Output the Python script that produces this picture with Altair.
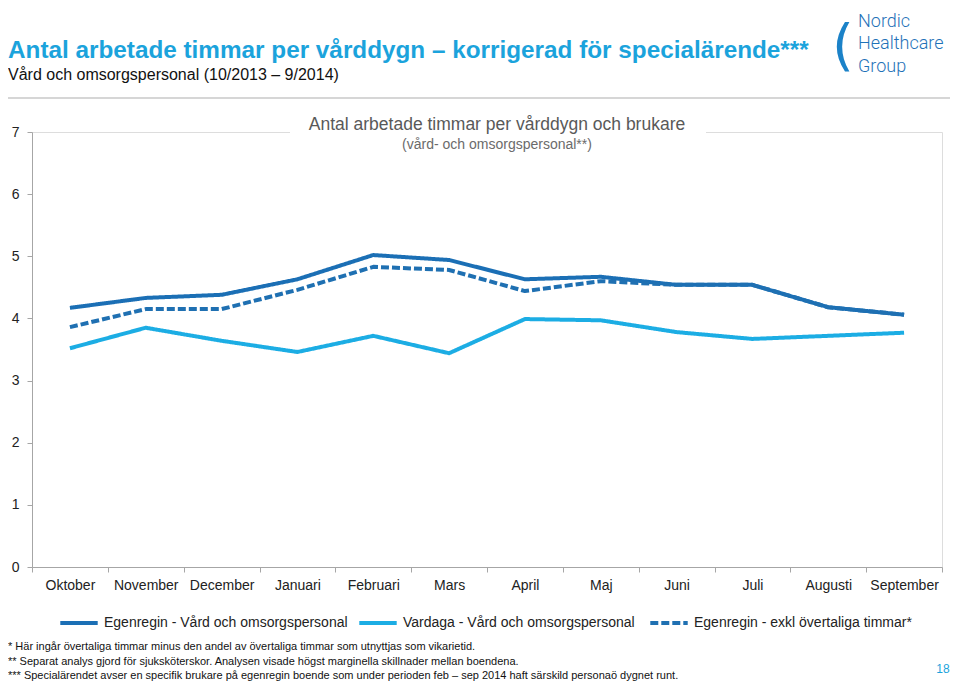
import altair as alt
import pandas as pd

months = ["Oktober", "November", "December", "Januari", "Februari", "Mars",
          "April", "Maj", "Juni", "Juli", "Augusti", "September"]
series_names = ["Egenregin - Vård och omsorgspersonal",
                "Vardaga -  Vård och omsorgspersonal",
                "Egenregin - exkl övertaliga timmar*"]
egenregin = [4.17, 4.33, 4.38, 4.63, 5.02, 4.94, 4.63, 4.67, 4.54, 4.54, 4.18, 4.06]
vardaga = [3.52, 3.85, 3.64, 3.46, 3.72, 3.44, 3.99, 3.97, 3.78, 3.67, 3.72, 3.77]
egenregin_exkl = [3.86, 4.15, 4.15, 4.46, 4.83, 4.78, 4.44, 4.60, 4.54, 4.54, 4.18, 4.06]
y_ticks = [0, 1, 2, 3, 4, 5, 6, 7]

colors = ["#1B6FB5", "#1CADE4", "#1F70B2"]
dashes = [[1, 0], [1, 0], [8, 3]]

rows = []
for name, vals in zip(series_names, [egenregin, vardaga, egenregin_exkl]):
    for m, v in zip(months, vals):
        rows.append({"month": m, "series": name, "value": v})
df = pd.DataFrame(rows)

W, H = 910, 435
FONT = "Liberation Sans"

legend_kw = dict(
    orient="none", legendX=26, legendY=470, direction="horizontal", columns=3,
    title=None, symbolType="stroke", symbolSize=1400, symbolStrokeWidth=4,
    labelFontSize=14, labelFont=FONT, labelColor="#222222", columnPadding=3,
    labelOffset=4, symbolOffset=0, padding=0, labelLimit=400,
)

lines = alt.Chart(df).mark_line(strokeWidth=4, strokeJoin="round").encode(
    x=alt.X("month:N", sort=months, bandPosition=0.5,
            scale=alt.Scale(type="band", paddingInner=0, paddingOuter=0),
            axis=alt.Axis(title=None, tickBand="extent", labelAngle=0,
                          labelFontSize=14, labelFont=FONT, labelColor="#222222",
                          labelPadding=6, tickSize=5, tickColor="#A6A6A6",
                          domainColor="#A6A6A6", grid=False)),
    y=alt.Y("value:Q", scale=alt.Scale(domain=[0, 7], nice=False),
            axis=alt.Axis(title=None, values=y_ticks, grid=False,
                          labelFontSize=14, labelFont=FONT, labelColor="#222222",
                          labelPadding=8, tickSize=5, tickColor="#A6A6A6",
                          domainColor="#A6A6A6")),
    color=alt.Color("series:N", sort=series_names,
                    scale=alt.Scale(domain=series_names, range=colors),
                    legend=alt.Legend(**legend_kw)),
    strokeDash=alt.StrokeDash("series:N", sort=series_names,
                              scale=alt.Scale(domain=series_names, range=dashes),
                              legend=alt.Legend(**legend_kw)),
)

# annotation helpers (pixel positions relative to plot origin at page (32,132))
def txt(s, x, y, size, color="#000000", weight="normal", align="left", font=FONT):
    return alt.Chart().mark_text(text=s, fontSize=size, color=color, fontWeight=weight,
                                 align=align, baseline="alphabetic", font=font).encode(
        x=alt.value(x), y=alt.value(y))

cover = alt.Chart().mark_rect(color="white").encode(
    x=alt.value(258), x2=alt.value(674), y=alt.value(-4), y2=alt.value(4))
sep = alt.Chart().mark_rule(color="#C8C8C8", strokeWidth=1.5).encode(
    x=alt.value(-24), x2=alt.value(918), y=alt.value(-34))

LOGO_FONT = "Roboto"
texts = [
    txt("Antal arbetade timmar per vårddygn och brukare", 465, -2, 17.5, "#595959", align="center"),
    txt("(vård- och omsorgspersonal**)", 465, 17, 14, "#6b6b6b", align="center"),
    txt("Antal arbetade timmar per vårddygn – korrigerad för specialärende***", -24, -74, 24.3,
        "#1BA3DC", weight="bold"),
    txt("Vård och omsorgspersonal (10/2013 – 9/2014)", -24, -52, 16, "#111111"),
    txt("Nordic", 826, -105, 18, "#1F72B8", weight=300, font=LOGO_FONT),
    txt("Healthcare", 826, -83, 18, "#1F72B8", weight=300, font=LOGO_FONT),
    txt("Group", 826, -60, 18, "#1F72B8", weight=300, font=LOGO_FONT),
    txt("(", 800, -68, 56, "#1B82C8", font="DejaVu Sans"),
    txt("* Här ingår övertaliga timmar minus den andel av övertaliga timmar som utnyttjas som vikarietid.",
        -24, 518, 11, "#111111"),
    txt("** Separat analys gjord för sjuksköterskor. Analysen visade högst marginella skillnader mellan boendena.",
        -24, 533, 11, "#111111"),
    txt("*** Specialärendet avser en specifik brukare på egenregin boende som under perioden feb – sep 2014 haft särskild personaö dygnet runt.",
        -24, 547, 11, "#111111"),
    txt("18", 911, 541, 12, "#1BA3DC", align="center"),
]

chart = alt.layer(lines, cover, sep, *texts).properties(
    width=W, height=H,
    autosize=alt.AutoSizeParams(type="none"),
    padding={"left": 24, "top": 124, "right": 10, "bottom": 114},
).configure_view(stroke="#BFBFBF", strokeWidth=1.5).configure(background="white")

chart.save("out.html", embed_options={"renderer": "svg", "actions": False})
